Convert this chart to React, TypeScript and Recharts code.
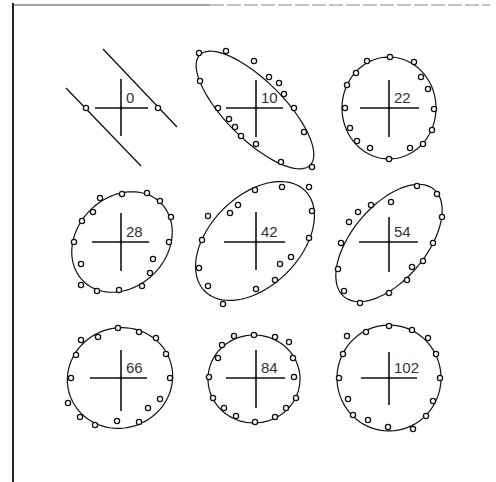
import React from 'react'
import { ReferenceLine, Scatter, ScatterChart, XAxis, YAxis } from 'recharts'

// panels in reading order, with the number printed beside each cross
const panelLabels = ['0', '10', '22', '28', '42', '54', '66', '84', '102']
const columnX = [121, 256, 389]
const rowY = [108, 242, 378]

// cross arms, offsets from the panel centre
const armLeft = [-26, -30, -29, -29, -32, -30, -31, -30, -28]
const armRight = [27, 27, 30, 28, 29, 29, 26, 29, 28]
const armUp = [-29, -28, -28, -29, -30, -25, -28, -28, -26]
const armDown = [28, 29, 29, 29, 28, 30, 33, 30, 27]

// fitted ellipses (panel 0 is degenerate: two parallel lines)
const ellipseDx = [0, -1, 0, 1, -1, 0, -1, -2, 0]
const ellipseDy = [0, 2, 0, 0, -1, 1, 0, 1, 0]
const ellipseRx = [0, 78, 47, 55, 71, 70, 53, 46, 52]
const ellipseRy = [0, 29, 51, 45, 45, 37, 50, 44, 53]
const ellipseTilt = [0, 45, 0, -45, -45, -50, -20, 0, 0]

// panel 0 lines, offsets from the centre
const zeroLines = [
  [[-18, -59], [56, 19]],
  [[-55, -20], [20, 58]],
]

// observed points, offsets from the panel centre
const panelPoints: number[][][] = [
  [[-35, 0], [37, 0]],
  [[-57, -55], [-30, -57], [-2, -47], [13, -31], [23, -25], [28, -14], [-56, -27], [-38, 0],
   [38, 0], [-27, 11], [-21, 19], [-15, 28], [0, 36], [48, 24], [25, 54], [56, 59]],
  [[-22, -47], [1, -51], [25, -46], [-33, -35], [32, -31], [-42, -23], [39, -19], [-44, 0],
   [45, 1], [-39, 20], [43, 22], [-32, 33], [34, 36], [-19, 40], [21, 40], [0, 51]],
  [[-21, -44], [1, -48], [26, -49], [39, -41], [50, -25], [-28, -30], [-39, -21], [-47, 0],
   [48, 0], [-40, 22], [32, 17], [29, 31], [-40, 43], [-24, 49], [-2, 48], [21, 44]],
  [[-1, -52], [26, -55], [53, -55], [-18, -37], [-26, -29], [-48, -26], [56, -31], [-54, -2],
   [53, -4], [35, 15], [24, 22], [-57, 26], [19, 38], [-48, 44], [0, 47], [-33, 62]],
  [[28, -56], [48, -48], [-18, -37], [2, -40], [-31, -30], [53, -25], [-40, -20], [-48, 1],
   [44, 1], [-51, 27], [34, 19], [23, 25], [-45, 49], [18, 38], [0, 51], [-29, 61]],
  [[-40, -38], [-23, -41], [-3, -50], [18, -46], [35, -40], [-45, -23], [45, -24], [-50, 0],
   [49, 0], [-53, 25], [39, 21], [27, 30], [-41, 39], [-26, 47], [-4, 43], [18, 44]],
  [[-22, -42], [-2, -43], [19, -41], [33, -36], [-34, -33], [-38, -20], [37, -20], [-47, -1],
   [38, -1], [-43, 20], [40, 20], [-32, 30], [30, 30], [-20, 38], [19, 39], [-1, 44]],
  [[-42, -42], [-23, -46], [0, -52], [23, -48], [39, -40], [-46, -24], [47, -24], [-50, 0],
   [51, 0], [-41, 21], [44, 23], [-36, 37], [37, 38], [-21, 42], [-1, 49], [24, 51]],
]

const centres = panelLabels.map((label, i) => ({
  x: columnX[i % 3],
  y: rowY[Math.floor(i / 3)],
  label,
}))

const points = panelPoints.flatMap((pts, i) =>
  pts.map(([dx, dy]) => ({ x: centres[i].x + dx, y: centres[i].y + dy }))
)

const ellipsePath = (i: number) => {
  const out = []
  const th = (ellipseTilt[i] * Math.PI) / 180
  const cx = centres[i].x + ellipseDx[i]
  const cy = centres[i].y + ellipseDy[i]
  for (let k = 0; k <= 90; k++) {
    const t = (k / 90) * Math.PI * 2
    const ex = ellipseRx[i] * Math.cos(t)
    const ey = ellipseRy[i] * Math.sin(t)
    out.push({ x: cx + ex * Math.cos(th) - ey * Math.sin(th), y: cy + ex * Math.sin(th) + ey * Math.cos(th) })
  }
  return out
}

const Nothing = () => <g />

const Ring = ({ cx, cy }: any) => (
  <circle cx={cx} cy={cy} r={2.6} fill="#fff" stroke="#111" strokeWidth={1.3} />
)

const Label = ({ cx, cy, payload }: any) => (
  <g>
    <circle cx={cx} cy={cy} r={1.4} fill="#111" />
    <text x={cx + 5} y={cy - 5} fontSize={15} fill="#333" fontFamily="Liberation Sans, Arial, sans-serif">
      {payload.label}
    </text>
  </g>
)

const App = () => {
  return (
    <div style={{ position: 'absolute', left: 0, top: 0, background: '#fff' }}>
      <ScatterChart width={496} height={482} margin={{ top: 0, right: 0, bottom: 0, left: 0 }}>
        <XAxis type="number" dataKey="x" domain={[0, 496]} hide />
        <YAxis type="number" dataKey="y" domain={[0, 482]} reversed hide />

        {/* frame */}
        <ReferenceLine segment={[{ x: 13, y: 3 }, { x: 13, y: 482 }]} stroke="#222" strokeWidth={2} />
        <ReferenceLine segment={[{ x: 13, y: 5 }, { x: 210, y: 5 }]} stroke="#444" strokeWidth={1} />
        <ReferenceLine segment={[{ x: 210, y: 5 }, { x: 490, y: 5 }]} stroke="#888" strokeWidth={1} strokeDasharray="14 3" />

        {centres.map((c, i) => (
          <ReferenceLine key={'h' + i} segment={[{ x: c.x + armLeft[i], y: c.y }, { x: c.x + armRight[i], y: c.y }]} stroke="#111" strokeWidth={1.6} />
        ))}
        {centres.map((c, i) => (
          <ReferenceLine key={'v' + i} segment={[{ x: c.x, y: c.y + armUp[i] }, { x: c.x, y: c.y + armDown[i] }]} stroke="#111" strokeWidth={1.6} />
        ))}
        {zeroLines.map(([a, b], i) => (
          <ReferenceLine key={'z' + i} segment={[{ x: centres[0].x + a[0], y: centres[0].y + a[1] }, { x: centres[0].x + b[0], y: centres[0].y + b[1] }]} stroke="#111" strokeWidth={1.3} />
        ))}

        {centres.map((c, i) => (i === 0 ? null : (
          <Scatter key={'e' + i} data={ellipsePath(i)} shape={Nothing} line={{ stroke: '#111', strokeWidth: 1.2 }} isAnimationActive={false} />
        )))}
        <Scatter data={points} shape={Ring} isAnimationActive={false} />
        <Scatter data={centres} shape={Label} isAnimationActive={false} />
      </ScatterChart>
    </div>
  )
}

export default App
